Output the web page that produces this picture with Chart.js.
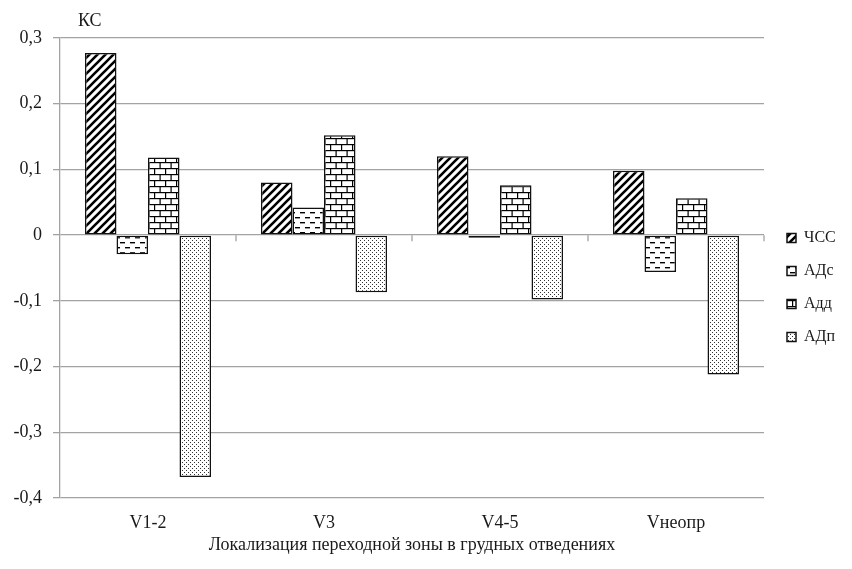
<!DOCTYPE html>
<html>
<head>
<meta charset="utf-8">
<script src="https://cdn.jsdelivr.net/npm/chart.js@4/dist/chart.umd.min.js"></script>
<style>
  body { margin: 0; background: #fff; }
  canvas { display: block; }
</style>
</head>
<body>
<canvas id="chart" width="852" height="569"></canvas>
<script>
const categories = ['V1-2', 'V3', 'V4-5', 'Vнеопр'];
const seriesNames = ['ЧСС', 'АДс', 'Адд', 'АДп'];
const chssValues = [0.277, 0.080, 0.120, 0.098];
const adsValues = [-0.029, 0.042, -0.004, -0.056];
const addValues = [0.118, 0.152, 0.076, 0.056];
const adpValues = [-0.368, -0.087, -0.098, -0.212];
const yTicks = [-0.4, -0.3, -0.2, -0.1, 0, 0.1, 0.2, 0.3];
const yLabel = 'КС';
const xTitle = 'Локализация переходной зоны в грудных отведениях';

const gridColor = '#a3a3a3';
const textColor = '#1a1a1a';
const serif = "'Liberation Serif', 'Times New Roman', serif";

const canvas = document.getElementById('chart');
const ctx = canvas.getContext('2d');

// small tiles for the black/white hatch fills
function makePattern(w, h, draw) {
    const c = document.createElement('canvas');
    c.width = w;
    c.height = h;
    const g = c.getContext('2d');
    g.fillStyle = '#fff';
    g.fillRect(0, 0, w, h);
    g.fillStyle = '#000';
    g.strokeStyle = '#000';
    draw(g);
    return ctx.createPattern(c, 'repeat');
}

const diagonal = makePattern(8, 8, g => {
    g.lineWidth = 2.6;
    g.beginPath();
    g.moveTo(-2, 10); g.lineTo(10, -2);
    g.moveTo(-2, 2); g.lineTo(2, -2);
    g.moveTo(6, 10); g.lineTo(10, 6);
    g.stroke();
});

const dashes = makePattern(10, 10, g => {
    g.fillRect(0, 2, 5, 1.4);
    g.fillRect(5, 7, 5, 1.4);
});

const bricks = makePattern(11, 12, g => {
    g.fillRect(0, 0, 11, 1.2);
    g.fillRect(0, 6, 11, 1.2);
    g.fillRect(0, 0, 1.2, 6);
    g.fillRect(5.5, 6, 1.2, 6);
});

const dots = makePattern(4, 4, g => {
    g.fillStyle = '#333';
    g.fillRect(0, 0, 1, 1);
    g.fillRect(2, 2, 1, 1);
});

const fills = [diagonal, dashes, bricks, dots];
const values = [chssValues, adsValues, addValues, adpValues];

const datasets = seriesNames.map((name, i) => ({
    label: name,
    data: values[i],
    backgroundColor: fills[i],
    borderColor: '#111',
    borderWidth: 1.5,
    borderSkipped: false
}));

// axis extras: "КС" caption and the small ticks on the zero line
const extras = {
    id: 'extras',
    beforeUpdate(chart) {
        const lg = chart.legend;
        if (lg && !lg._fixed) {
            const fit = lg.fit;
            lg.fit = function () {
                fit.call(this);
                this.width = 88;
            };
            lg._fixed = true;
        }
    },
    afterLayout(chart) {
        const lg = chart.legend;
        lg.top -= 16; lg.bottom -= 16;
        lg.left += 6; lg.right += 6;
    },
    afterDraw(chart) {
        const { ctx, chartArea, scales } = chart;
        const x = scales.x, y = scales.y;
        const y0 = y.getPixelForValue(0);
        ctx.save();
        ctx.strokeStyle = gridColor;
        ctx.lineWidth = 1.3;
        ctx.beginPath();
        for (let i = 1; i <= categories.length; i++) {
            const px = i < categories.length
                ? (x.getPixelForValue(i - 1) + x.getPixelForValue(i)) / 2
                : chartArea.right;
            ctx.moveTo(px, y0);
            ctx.lineTo(px, y0 + 6);
        }
        ctx.stroke();
        ctx.fillStyle = textColor;
        ctx.font = '18px ' + serif;
        ctx.textBaseline = 'middle';
        ctx.fillText(yLabel, chartArea.left + 18, chartArea.top - 17);
        ctx.restore();
    }
};

new Chart(ctx, {
    type: 'bar',
    data: { labels: categories, datasets: datasets },
    options: {
        responsive: false,
        animation: false,
        layout: { padding: { top: 38, right: 0, bottom: 0, left: 0 } },
        datasets: {
            bar: { categoryPercentage: 0.716, barPercentage: 1 }
        },
        plugins: {
            legend: {
                position: 'right',
                labels: {
                    boxWidth: 9,
                    boxHeight: 9,
                    padding: 17,
                    color: textColor,
                    font: { family: serif, size: 16 }
                }
            },
            tooltip: { enabled: false }
        },
        scales: {
            x: {
                grid: { display: true, drawOnChartArea: false, drawTicks: false, tickLength: 0 },
                border: { display: false },
                ticks: { color: textColor, padding: 14, font: { family: serif, size: 18 } },
                title: {
                    display: true,
                    text: xTitle,
                    color: textColor,
                    padding: { top: 0, bottom: 13 },
                    font: { family: serif, size: 18 }
                },
                afterFit(scale) { scale.height = 71; }
            },
            y: {
                min: -0.4,
                max: 0.3,
                grid: { color: gridColor, lineWidth: 1.3, tickLength: 7 },
                border: { display: true, color: gridColor, width: 1.3 },
                ticks: {
                    color: textColor,
                    padding: 11,
                    font: { family: serif, size: 18 },
                    callback: v => Math.abs(v) < 1e-9 ? '0' : v.toFixed(1).replace('.', ',')
                },
                afterBuildTicks(scale) { scale.ticks = yTicks.map(v => ({ value: v })); },
                afterFit(scale) { scale.width = 60; }
            }
        }
    },
    plugins: [extras]
});
</script>
</body>
</html>
